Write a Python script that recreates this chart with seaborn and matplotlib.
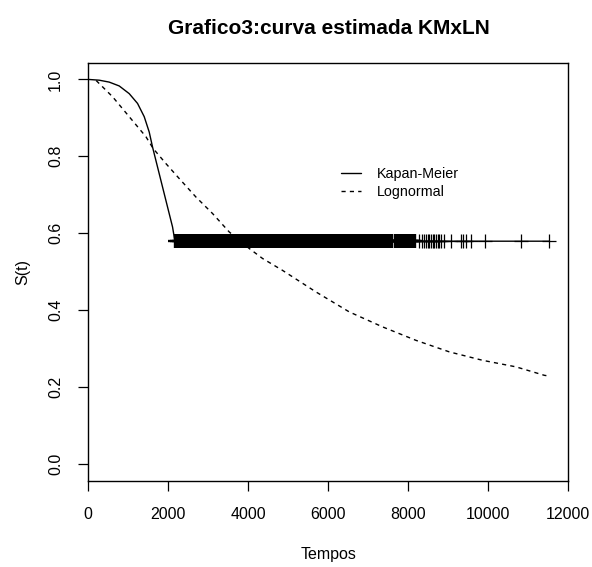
import matplotlib
matplotlib.use("Agg")
import matplotlib.pyplot as plt
import seaborn as sns
import pandas as pd
from matplotlib.lines import Line2D

# ---- data ----
km_time = [0, 275, 525, 775, 1025, 1233, 1400, 1525, 1608, 1733, 1858, 1983, 2108, 2167, 11525]
km_surv = [1.0, 0.998, 0.993, 0.983, 0.963, 0.9375, 0.903, 0.863, 0.824, 0.772, 0.720, 0.668, 0.616, 0.579, 0.579]

ln_time = [200, 608, 1025, 1442, 1625, 1942, 2275, 2692, 3108, 3525, 4025, 4358, 4858, 5692,
           6525, 7358, 8192, 9025, 9858, 10692, 11400, 11525]
ln_surv = [0.997, 0.955, 0.903, 0.851, 0.820, 0.781, 0.742, 0.694, 0.651, 0.603, 0.560, 0.534, 0.503, 0.447,
           0.395, 0.356, 0.321, 0.291, 0.269, 0.252, 0.230, 0.228]

# censored times in the dense stretch (2175-7600)
censor_dense = [
    2175, 2225, 2275, 2325, 2375, 2425, 2475, 2525, 2575, 2625, 2675, 2725,
    2775, 2825, 2875, 2925, 2975, 3025, 3075, 3125, 3175, 3225, 3275, 3325,
    3375, 3425, 3475, 3525, 3575, 3625, 3675, 3725, 3775, 3825, 3875, 3925,
    3975, 4025, 4075, 4125, 4175, 4225, 4275, 4325, 4375, 4425, 4475, 4525,
    4575, 4625, 4675, 4725, 4775, 4825, 4875, 4925, 4975, 5025, 5075, 5125,
    5175, 5225, 5275, 5325, 5375, 5425, 5475, 5525, 5575, 5625, 5675, 5725,
    5775, 5825, 5875, 5925, 5975, 6025, 6075, 6125, 6175, 6225, 6275, 6325,
    6375, 6425, 6475, 6525, 6575, 6625, 6675, 6725, 6775, 6825, 6875, 6925,
    6975, 7025, 7075, 7125, 7175, 7225, 7275, 7325, 7375, 7425, 7475, 7525,
    7575, 7600,
    7660, 7690, 7720, 7750, 7780, 7830, 7860, 7910, 7960, 8030, 8060, 8090, 8120, 8150, 8180,
]
# censored times in the sparse tail
censor_sparse = [
    8258, 8342, 8383, 8442, 8483, 8525, 8567, 8608, 8650, 8692, 8733, 8775, 8817,
    8900, 9067, 9317, 9375, 9442, 9567, 9917, 10817, 11525,
]
censor_level = 0.579

x_ticks = [0, 2000, 4000, 6000, 8000, 10000, 12000]
y_ticks = [0.0, 0.2, 0.4, 0.6, 0.8, 1.0]
y_tick_labels = ["0.0", "0.2", "0.4", "0.6", "0.8", "1.0"]

title = "Grafico3:curva estimada KMxLN"
legend_labels = ["Kapan-Meier", "Lognormal"]

# ---- style ----
sns.set_theme(style="ticks")
plt.rcParams["font.family"] = ["Liberation Sans", "DejaVu Sans"]
plt.rcParams["text.color"] = "black"
plt.rcParams["axes.labelcolor"] = "black"

fig = plt.figure(figsize=(5.92, 5.67), dpi=100)
ax = fig.add_axes([0.149, 0.1517, 0.811, 0.7367])

km_df = pd.DataFrame({"t": km_time, "s": km_surv})
ln_df = pd.DataFrame({"t": ln_time, "s": ln_surv})
cd_df = pd.DataFrame({"t": censor_dense, "s": [censor_level] * len(censor_dense)})
cp_df = pd.DataFrame({"t": censor_sparse, "s": [censor_level] * len(censor_sparse)})

sns.lineplot(data=km_df, x="t", y="s", ax=ax, color="black", lw=1.0, sort=False, estimator=None)
sns.lineplot(data=ln_df, x="t", y="s", ax=ax, color="black", lw=1.0, sort=False, estimator=None,
             linestyle=(0, (3, 3)))
sns.scatterplot(data=cd_df, x="t", y="s", ax=ax, marker="+", s=100, color="black", linewidth=1.7)
sns.scatterplot(data=cp_df, x="t", y="s", ax=ax, marker="+", s=100, color="black", linewidth=0.9)

ax.set_xlim(0, 12000)
ax.set_ylim(-0.045, 1.042)
ax.set_xticks(x_ticks)
ax.set_xticklabels([str(v) for v in x_ticks])
ax.set_yticks(y_ticks)
ax.set_yticklabels(y_tick_labels, rotation=90, va="center")

for sp in ax.spines.values():
    sp.set_visible(True)
    sp.set_color("black")
    sp.set_linewidth(1.0)

ax.tick_params(axis="both", direction="out", length=7, width=0.9, color="black",
               labelsize=11.5, labelcolor="black")
ax.tick_params(axis="x", pad=12)
ax.tick_params(axis="y", pad=11)

ax.set_xlabel("Tempos", fontsize=11.5, labelpad=18, color="black")
ax.set_ylabel("S(t)", fontsize=11.5, labelpad=13, color="black")
fig.text(0.556, 0.95, title, ha="center", va="center", fontsize=15, fontweight="bold", color="black")

handles = [Line2D([], [], color="black", lw=1.0),
           Line2D([], [], color="black", lw=1.0, linestyle=(0, (3, 3)))]
leg = ax.legend(handles, legend_labels, frameon=False, fontsize=10.3, loc="upper left",
                bbox_to_anchor=(341 / 592, 1 - 167 / 567), bbox_transform=fig.transFigure,
                borderpad=0, borderaxespad=0, handlelength=1.4, handletextpad=1.1,
                labelspacing=0.3)
for txt in leg.get_texts():
    txt.set_color("black")

fig.savefig("out.png", dpi=100)
